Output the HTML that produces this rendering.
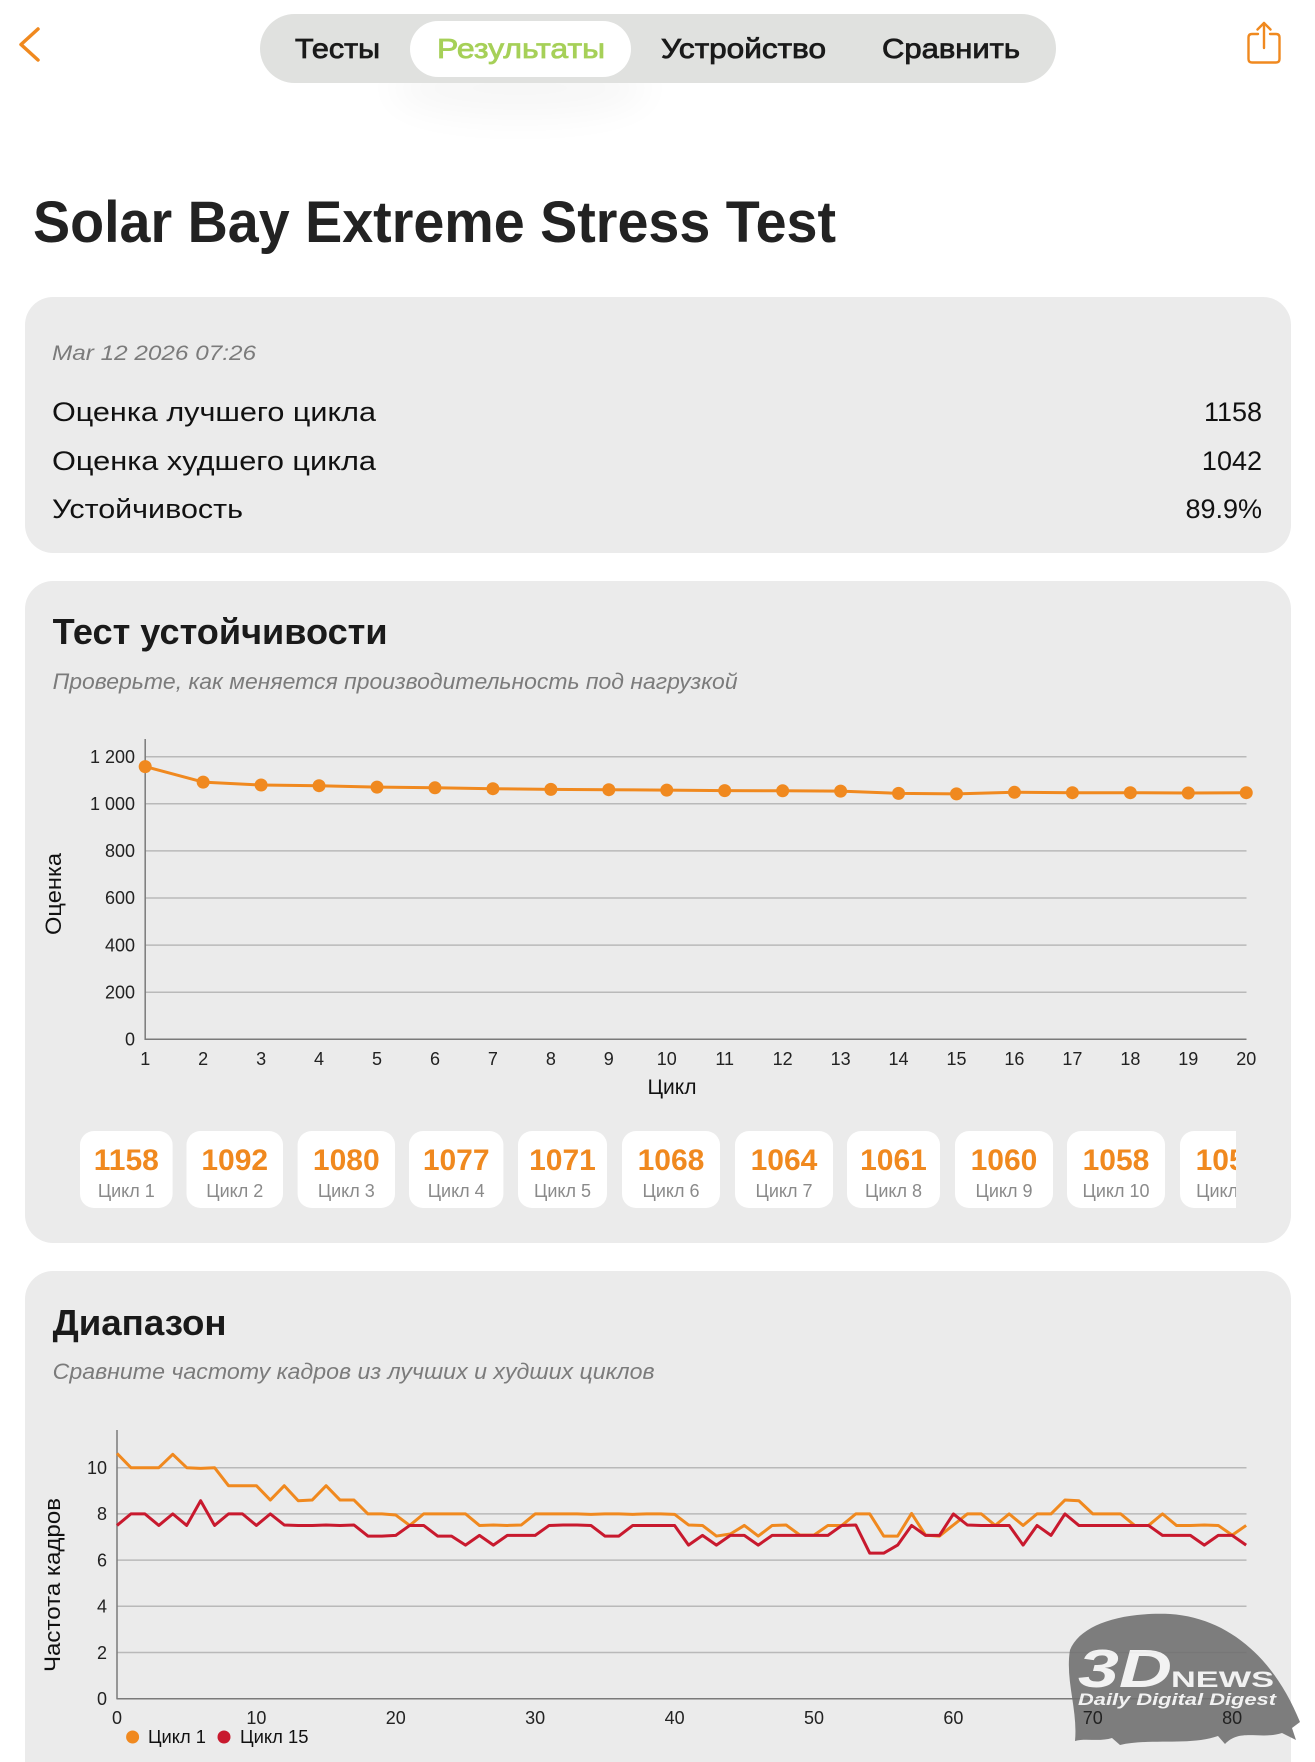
<!DOCTYPE html>
<html><head><meta charset="utf-8">
<style>
html,body{margin:0;padding:0;background:#fff;width:1315px;height:1762px;overflow:hidden}
svg{display:block}
text{font-family:"Liberation Sans","Noto Sans CJK JP",sans-serif}
</style></head>
<body>
<svg width="1315" height="1762" viewBox="0 0 1315 1762" xmlns="http://www.w3.org/2000/svg">
<defs>
<filter id="blur" x="-50%" y="-50%" width="200%" height="200%"><feGaussianBlur stdDeviation="18"/></filter>
<clipPath id="boxclip"><rect x="0" y="1100" width="1236" height="140"/></clipPath>
</defs>
<rect width="1315" height="1762" fill="#fff"/>

<!-- header -->
<ellipse cx="520" cy="88" rx="130" ry="30" fill="#000" opacity="0.03" filter="url(#blur)"/>
<polyline points="38,29 21,44.5 38,60" fill="none" stroke="#f0891f" stroke-width="3.5" stroke-linecap="round" stroke-linejoin="round"/>
<rect x="260" y="14" width="796" height="69" rx="34.5" fill="#e0e1df"/>
<rect x="410" y="21" width="221" height="56" rx="28" fill="#fff"/>
<text x="295" y="58" font-size="28" fill="#1a1a1a" stroke="#1a1a1a" stroke-width="0.8" textLength="85" lengthAdjust="spacingAndGlyphs">Тесты</text>
<text x="437" y="58" font-size="28" fill="#a6d058" stroke="#a6d058" stroke-width="0.8" textLength="168" lengthAdjust="spacingAndGlyphs">Результаты</text>
<text x="661" y="58" font-size="28" fill="#1a1a1a" stroke="#1a1a1a" stroke-width="0.8" textLength="165" lengthAdjust="spacingAndGlyphs">Устройство</text>
<text x="882" y="58" font-size="28" fill="#1a1a1a" stroke="#1a1a1a" stroke-width="0.8" textLength="138" lengthAdjust="spacingAndGlyphs">Сравнить</text>
<!-- share icon -->
<path d="M1258,34 L1252,34 Q1248.5,34 1248.5,37.5 L1248.5,59 Q1248.5,62.5 1252,62.5 L1276,62.5 Q1279.5,62.5 1279.5,59 L1279.5,37.5 Q1279.5,34 1276,34 L1270,34" fill="none" stroke="#f0891f" stroke-width="2.4" stroke-linecap="round" stroke-linejoin="round"/>
<line x1="1264" y1="23" x2="1264" y2="48" stroke="#f0891f" stroke-width="2.4" stroke-linecap="round"/>
<polyline points="1257.5,29.5 1264,23 1270.5,29.5" fill="none" stroke="#f0891f" stroke-width="2.4" stroke-linecap="round" stroke-linejoin="round"/>

<!-- title -->
<text x="33" y="242" font-size="58" font-weight="bold" fill="#222" textLength="803" lengthAdjust="spacingAndGlyphs">Solar Bay Extreme Stress Test</text>

<!-- card 1 -->
<rect x="25" y="297" width="1266" height="256" rx="28" fill="#ebebeb"/>
<text x="52" y="360" font-size="21" font-style="italic" fill="#7b7b7b" textLength="204" lengthAdjust="spacingAndGlyphs">Mar 12 2026 07:26</text>
<text x="52" y="421" font-size="27" fill="#111" textLength="324" lengthAdjust="spacingAndGlyphs">Оценка лучшего цикла</text>
<text x="52" y="470" font-size="27" fill="#111" textLength="324" lengthAdjust="spacingAndGlyphs">Оценка худшего цикла</text>
<text x="52" y="518" font-size="27" fill="#111" textLength="191" lengthAdjust="spacingAndGlyphs">Устойчивость</text>
<text x="1262" y="421" font-size="27" fill="#111" text-anchor="end">1158</text>
<text x="1262" y="470" font-size="27" fill="#111" text-anchor="end">1042</text>
<text x="1262" y="518" font-size="27" fill="#111" text-anchor="end">89.9%</text>

<!-- card 2 -->
<rect x="25" y="581" width="1266" height="662" rx="28" fill="#ebebeb"/>
<text x="52.6" y="644" font-size="36" font-weight="bold" fill="#1a1a1a" textLength="335" lengthAdjust="spacingAndGlyphs">Тест устойчивости</text>
<text x="52.6" y="689" font-size="22" font-style="italic" fill="#7b7b7b" textLength="685" lengthAdjust="spacingAndGlyphs">Проверьте, как меняется производительность под нагрузкой</text>

<g stroke="#b9b9b9" stroke-width="1.5">
<line x1="145" y1="756.7" x2="1246.5" y2="756.7"/>
<line x1="145" y1="803.8" x2="1246.5" y2="803.8"/>
<line x1="145" y1="850.9" x2="1246.5" y2="850.9"/>
<line x1="145" y1="898" x2="1246.5" y2="898"/>
<line x1="145" y1="945.1" x2="1246.5" y2="945.1"/>
<line x1="145" y1="992.2" x2="1246.5" y2="992.2"/>
</g>
<line x1="145" y1="1039.3" x2="1246.5" y2="1039.3" stroke="#7a7a7a" stroke-width="1.5"/>
<line x1="145.2" y1="739" x2="145.2" y2="1040" stroke="#7a7a7a" stroke-width="1.5"/>
<g font-size="18" fill="#222" text-anchor="end">
<text x="135" y="763">1 200</text>
<text x="135" y="810">1 000</text>
<text x="135" y="857">800</text>
<text x="135" y="904">600</text>
<text x="135" y="951.5">400</text>
<text x="135" y="998.5">200</text>
<text x="135" y="1045.6">0</text>
</g>
<g font-size="18" fill="#222" text-anchor="middle">
<text x="145.2" y="1065">1</text><text x="203.15" y="1065">2</text><text x="261.1" y="1065">3</text><text x="319.05" y="1065">4</text><text x="377" y="1065">5</text><text x="434.95" y="1065">6</text><text x="492.9" y="1065">7</text><text x="550.85" y="1065">8</text><text x="608.8" y="1065">9</text><text x="666.75" y="1065">10</text><text x="724.7" y="1065">11</text><text x="782.65" y="1065">12</text><text x="840.6" y="1065">13</text><text x="898.55" y="1065">14</text><text x="956.5" y="1065">15</text><text x="1014.45" y="1065">16</text><text x="1072.4" y="1065">17</text><text x="1130.35" y="1065">18</text><text x="1188.3" y="1065">19</text><text x="1246.25" y="1065">20</text>
</g>
<text x="672" y="1094" font-size="21" fill="#111" text-anchor="middle">Цикл</text>
<text transform="translate(61,894) rotate(-90)" font-size="22" fill="#111" text-anchor="middle" textLength="82" lengthAdjust="spacingAndGlyphs">Оценка</text>

<polyline fill="none" stroke="#f0891f" stroke-width="3" stroke-linejoin="round" points="145.2,766.6 203.15,782.1 261.1,785 319.05,785.7 377,787.1 434.95,787.8 492.9,788.7 550.85,789.4 608.8,789.7 666.75,790.1 724.7,790.6 782.65,790.8 840.6,791.1 898.55,793.4 956.5,793.9 1014.45,792.3 1072.4,792.7 1130.35,792.7 1188.3,793 1246.25,792.7"/>
<g fill="#f0891f">
<circle cx="145.2" cy="766.6" r="6.5"/><circle cx="203.15" cy="782.1" r="6.5"/><circle cx="261.1" cy="785" r="6.5"/><circle cx="319.05" cy="785.7" r="6.5"/><circle cx="377" cy="787.1" r="6.5"/><circle cx="434.95" cy="787.8" r="6.5"/><circle cx="492.9" cy="788.7" r="6.5"/><circle cx="550.85" cy="789.4" r="6.5"/><circle cx="608.8" cy="789.7" r="6.5"/><circle cx="666.75" cy="790.1" r="6.5"/><circle cx="724.7" cy="790.6" r="6.5"/><circle cx="782.65" cy="790.8" r="6.5"/><circle cx="840.6" cy="791.1" r="6.5"/><circle cx="898.55" cy="793.4" r="6.5"/><circle cx="956.5" cy="793.9" r="6.5"/><circle cx="1014.45" cy="792.3" r="6.5"/><circle cx="1072.4" cy="792.7" r="6.5"/><circle cx="1130.35" cy="792.7" r="6.5"/><circle cx="1188.3" cy="793" r="6.5"/><circle cx="1246.25" cy="792.7" r="6.5"/>
</g>

<!-- score boxes -->
<g clip-path="url(#boxclip)">
<g fill="#fff">
<rect x="80" y="1131" width="92.6" height="77" rx="14"/>
<rect x="186.5" y="1131" width="96.5" height="77" rx="14"/>
<rect x="297.6" y="1131" width="97.4" height="77" rx="14"/>
<rect x="409" y="1131" width="94.4" height="77" rx="14"/>
<rect x="518" y="1131" width="89" height="77" rx="14"/>
<rect x="622" y="1131" width="98" height="77" rx="14"/>
<rect x="735" y="1131" width="98" height="77" rx="14"/>
<rect x="847" y="1131" width="93" height="77" rx="14"/>
<rect x="955" y="1131" width="98" height="77" rx="14"/>
<rect x="1067" y="1131" width="98" height="77" rx="14"/>
<rect x="1180" y="1131" width="98" height="77" rx="14"/>
</g>
<g font-size="30" font-weight="bold" fill="#f0891f" text-anchor="middle">
<text x="126.3" y="1170">1158</text>
<text x="234.75" y="1170">1092</text>
<text x="346.3" y="1170">1080</text>
<text x="456.2" y="1170">1077</text>
<text x="562.5" y="1170">1071</text>
<text x="671" y="1170">1068</text>
<text x="784" y="1170">1064</text>
<text x="893.5" y="1170">1061</text>
<text x="1004" y="1170">1060</text>
<text x="1116" y="1170">1058</text>
<text x="1229" y="1170">1056</text>
</g>
<g font-size="18" fill="#8a8a8a" text-anchor="middle">
<text x="126.3" y="1197">Цикл 1</text>
<text x="234.75" y="1197">Цикл 2</text>
<text x="346.3" y="1197">Цикл 3</text>
<text x="456.2" y="1197">Цикл 4</text>
<text x="562.5" y="1197">Цикл 5</text>
<text x="671" y="1197">Цикл 6</text>
<text x="784" y="1197">Цикл 7</text>
<text x="893.5" y="1197">Цикл 8</text>
<text x="1004" y="1197">Цикл 9</text>
<text x="1116" y="1197">Цикл 10</text>
<text x="1229" y="1197">Цикл 11</text>
</g>
</g>

<!-- card 3 -->
<rect x="25" y="1271" width="1266" height="560" rx="28" fill="#ebebeb"/>
<text x="52.6" y="1335" font-size="36" font-weight="bold" fill="#1a1a1a" textLength="174" lengthAdjust="spacingAndGlyphs">Диапазон</text>
<text x="52.6" y="1379" font-size="22" font-style="italic" fill="#7b7b7b" textLength="602" lengthAdjust="spacingAndGlyphs">Сравните частоту кадров из лучших и худших циклов</text>

<g stroke="#b9b9b9" stroke-width="1.5">
<line x1="117" y1="1467.7" x2="1246.5" y2="1467.7"/>
<line x1="117" y1="1513.9" x2="1246.5" y2="1513.9"/>
<line x1="117" y1="1560.1" x2="1246.5" y2="1560.1"/>
<line x1="117" y1="1606.3" x2="1246.5" y2="1606.3"/>
<line x1="117" y1="1652.5" x2="1246.5" y2="1652.5"/>
</g>
<line x1="117" y1="1698.7" x2="1246.5" y2="1698.7" stroke="#7a7a7a" stroke-width="1.5"/>
<line x1="117" y1="1430" x2="117" y2="1699.4" stroke="#7a7a7a" stroke-width="1.5"/>

<polyline fill="none" stroke="#f0891f" stroke-width="3" stroke-linejoin="round" vector-effect="non-scaling-stroke" transform="translate(117,1698.7) scale(13.94,-23.1)" points="0,10.62 1,10 2,10 3,10 4,10.58 5,10 6,9.97 7,10 8,9.22 9,9.22 10,9.22 11,8.6 12,9.22 13,8.57 14,8.6 15,9.22 16,8.6 17,8.6 18,8 19,8 20,7.95 21,7.5 22,8 23,8 24,8 25,8 26,7.5 27,7.52 28,7.5 29,7.52 30,8 31,8 32,8 33,8 34,7.98 35,8 36,8 37,7.98 38,8 39,8 40,7.98 41,7.52 42,7.5 43,7.04 44,7.13 45,7.5 46,7.04 47,7.5 48,7.52 49,7.08 50,7.08 51,7.5 52,7.5 53,8 54,8 55,7.04 56,7.04 57,8.02 58,7.08 59,7.04 60,7.52 61,8 62,8 63,7.5 64,8 65,7.5 66,8 67,8 68,8.6 69,8.57 70,8 71,8 72,8 73,7.5 74,7.5 75,8 76,7.5 77,7.5 78,7.52 79,7.5 80,7.08 81,7.5"/>
<polyline fill="none" stroke="#c8192e" stroke-width="3" stroke-linejoin="round" vector-effect="non-scaling-stroke" transform="translate(117,1698.7) scale(13.94,-23.1)" points="0,7.5 1,8 2,8 3,7.5 4,8 5,7.5 6,8.57 7,7.5 8,8 9,8 10,7.5 11,8 12,7.52 13,7.5 14,7.5 15,7.52 16,7.5 17,7.52 18,7.04 19,7.04 20,7.07 21,7.5 22,7.5 23,7.04 24,7.04 25,6.65 26,7.07 27,6.65 28,7.07 29,7.07 30,7.07 31,7.5 32,7.52 33,7.52 34,7.5 35,7.04 36,7.04 37,7.5 38,7.5 39,7.5 40,7.5 41,6.65 42,7.07 43,6.65 44,7.07 45,7.07 46,6.65 47,7.07 48,7.07 49,7.07 50,7.07 51,7.07 52,7.5 53,7.52 54,6.3 55,6.3 56,6.65 57,7.5 58,7.07 59,7.07 60,8 61,7.52 62,7.5 63,7.5 64,7.5 65,6.65 66,7.5 67,7.07 68,8 69,7.5 70,7.5 71,7.5 72,7.5 73,7.5 74,7.5 75,7.07 76,7.07 77,7.07 78,6.65 79,7.07 80,7.07 81,6.65"/>

<!-- watermark -->
<g opacity="0.88">
<path d="M1070,1650 C1080,1625 1120,1612 1170,1614 C1230,1618 1275,1660 1300,1722 L1292,1728 L1296,1740 L1282,1733 C1260,1740 1240,1728 1225,1744 L1218,1736 C1190,1746 1150,1738 1120,1745 L1112,1738 C1100,1742 1085,1738 1075,1741 C1078,1710 1065,1680 1070,1650 Z" fill="#6e6e6e"/>
<text x="1078" y="1687" font-size="54" font-weight="bold" font-style="italic" fill="#f4f4f4" textLength="94" lengthAdjust="spacingAndGlyphs">3D</text>
<text x="1171" y="1687" font-size="22" font-weight="bold" fill="#f4f4f4" textLength="103" lengthAdjust="spacingAndGlyphs">NEWS</text>
<text x="1078" y="1705" font-size="17" font-weight="bold" font-style="italic" fill="#f4f4f4" textLength="198" lengthAdjust="spacingAndGlyphs">Daily Digital Digest</text>
</g>

<g font-size="18" fill="#222" text-anchor="end">
<text x="107" y="1474">10</text>
<text x="107" y="1520">8</text>
<text x="107" y="1566.4">6</text>
<text x="107" y="1612.6">4</text>
<text x="107" y="1658.8">2</text>
<text x="107" y="1705">0</text>
</g>
<g font-size="18" fill="#222" text-anchor="middle">
<text x="117" y="1724">0</text><text x="256.4" y="1724">10</text><text x="395.8" y="1724">20</text><text x="535.2" y="1724">30</text><text x="674.6" y="1724">40</text><text x="814" y="1724">50</text><text x="953.4" y="1724">60</text><text x="1092.8" y="1724">70</text><text x="1232.2" y="1724">80</text>
</g>
<text transform="translate(60,1585) rotate(-90)" font-size="22" fill="#111" text-anchor="middle" textLength="174" lengthAdjust="spacingAndGlyphs">Частота кадров</text>

<!-- legend -->
<circle cx="132.6" cy="1737" r="6.5" fill="#f0891f"/>
<text x="148" y="1743" font-size="18" fill="#111" textLength="58" lengthAdjust="spacingAndGlyphs">Цикл 1</text>
<circle cx="224" cy="1737" r="6.5" fill="#c8192e"/>
<text x="240" y="1743" font-size="18" fill="#111" textLength="68.5" lengthAdjust="spacingAndGlyphs">Цикл 15</text>
</svg>
</body></html>
